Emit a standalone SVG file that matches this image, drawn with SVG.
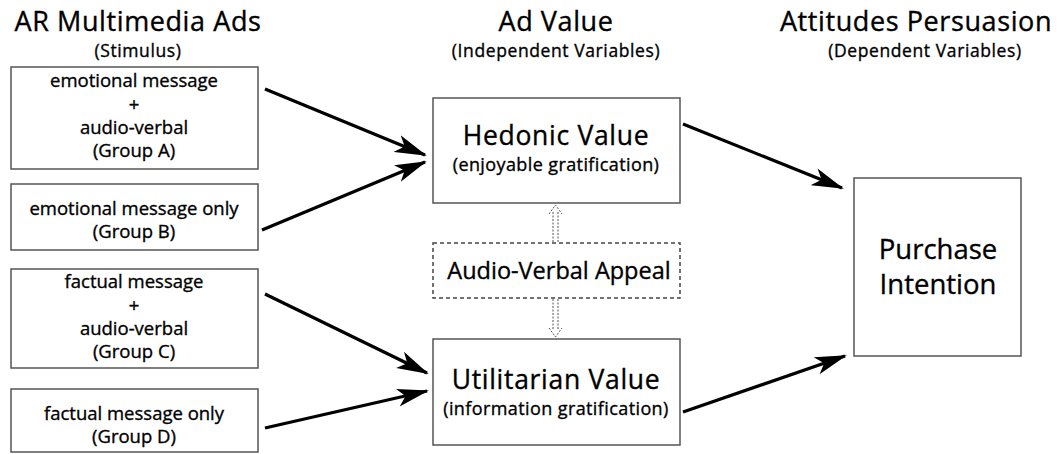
<svg xmlns="http://www.w3.org/2000/svg" width="1059" height="454" viewBox="0 0 1059 454">
<style>
text{font-family:"Open Sans","Noto Sans",sans-serif;fill:#000;text-anchor:middle;stroke:#000;stroke-width:0.35}
.h{font-size:27px;letter-spacing:0.6px}
.s{font-size:17.5px;letter-spacing:0.6px}
.b{font-size:18.5px}
.m{font-size:26.5px;letter-spacing:0.7px}
.a{font-size:23.5px}
.g{font-size:18px;letter-spacing:0.4px}
.p{font-size:27.5px}
.box{fill:#fff;stroke:#555;stroke-width:1.5}
.dbox{fill:#fff;stroke:#444;stroke-width:1.5;stroke-dasharray:4 3}
.c{stroke:#000;stroke-width:3.2;fill:none;marker-end:url(#ah)}
.d{stroke:#555;stroke-width:1;fill:none;stroke-dasharray:2 1.5}
</style>
<defs>
<marker id="ah" viewBox="0 0 32 20" refX="30" refY="10" markerWidth="32" markerHeight="20" markerUnits="userSpaceOnUse" orient="auto">
<path d="M0,1 L32,10 L0,19 L8,10 Z" fill="#000"/>
</marker>
</defs>
<rect width="1059" height="454" fill="#fff"/>
<g id="headers">
<text class="h" x="138" y="31">AR Multimedia Ads</text>
<text class="s" x="138" y="57">(Stimulus)</text>
<text class="h" x="556" y="31">Ad Value</text>
<text class="s" x="556" y="57">(Independent Variables)</text>
<text class="h" x="916" y="31">Attitudes Persuasion</text>
<text class="s" x="925" y="57">(Dependent Variables)</text>
</g>
<g id="groupA">
<rect class="box" x="11" y="67" width="247" height="102"/>
<text class="b" x="134" y="87">emotional message</text>
<text class="b" x="134" y="111">+</text>
<text class="b" x="134" y="134">audio-verbal</text>
<text class="b" x="134" y="157">(Group A)</text>
</g>
<g id="groupB">
<rect class="box" x="11" y="184" width="247" height="66"/>
<text class="b" x="134" y="215">emotional message only</text>
<text class="b" x="134" y="238">(Group B)</text>
</g>
<g id="groupC">
<rect class="box" x="11" y="269" width="247" height="99"/>
<text class="b" x="134" y="288">factual message</text>
<text class="b" x="134" y="312">+</text>
<text class="b" x="134" y="335">audio-verbal</text>
<text class="b" x="134" y="358">(Group C)</text>
</g>
<g id="groupD">
<rect class="box" x="11" y="389" width="247" height="63"/>
<text class="b" x="134" y="420">factual message only</text>
<text class="b" x="134" y="443">(Group D)</text>
</g>
<g id="hedonic">
<rect class="box" x="433" y="98" width="247" height="105"/>
<text class="m" x="556" y="145">Hedonic Value</text>
<text class="g" x="556" y="171">(enjoyable gratification)</text>
</g>
<g id="appeal">
<rect class="dbox" x="433" y="243" width="247" height="55"/>
<text class="a" x="559" y="279">Audio-Verbal Appeal</text>
</g>
<g id="utilitarian">
<rect class="box" x="433" y="339" width="247" height="106"/>
<text class="m" x="556" y="389">Utilitarian Value</text>
<text class="g" x="556" y="415">(information gratification)</text>
</g>
<g id="purchase">
<rect class="box" x="854" y="178" width="167" height="178"/>
<text class="p" x="938" y="259">Purchase</text>
<text class="p" x="938" y="294">Intention</text>
</g>
<g id="connectors">
<line class="c" x1="265" y1="89" x2="425" y2="155"/>
<line class="c" x1="262" y1="230" x2="425" y2="162"/>
<line class="c" x1="265" y1="294" x2="427" y2="373"/>
<line class="c" x1="265" y1="428" x2="427" y2="391"/>
<line class="c" x1="683" y1="124" x2="842" y2="188"/>
<line class="c" x1="683" y1="412" x2="845" y2="356"/>
<path class="d" d="M553,242 V212 M558,242 V212 M549,214 L555.5,205 L562,214"/>
<path class="d" d="M553,299 V330 M558,299 V330 M549,328 L555.5,337 L562,328"/>
</g>
</svg>
